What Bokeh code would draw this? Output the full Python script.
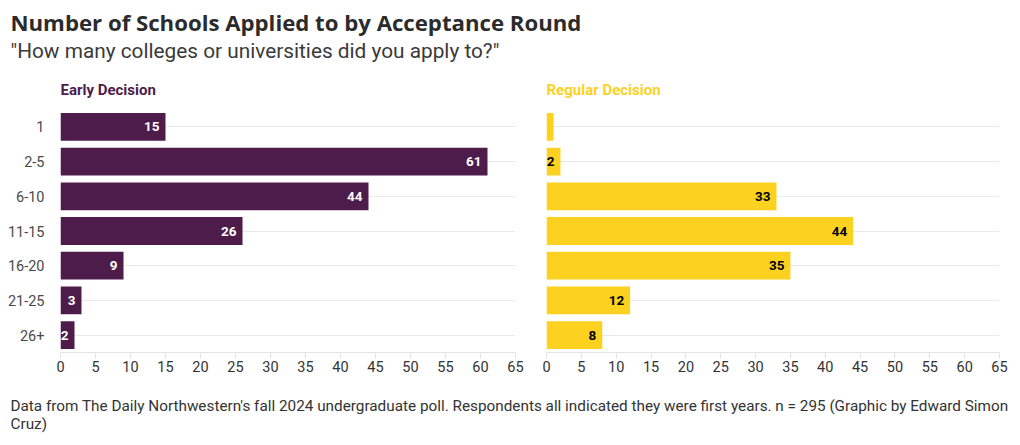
from bokeh.plotting import figure
from bokeh.layouts import column, row
from bokeh.models import Range1d, FactorRange, FixedTicker, Label, ColumnDataSource
from bokeh.embed import file_html
from bokeh.resources import INLINE

# ---- data ----
categories = ["1", "2-5", "6-10", "11-15", "16-20", "21-25", "26+"]
early_decision = [15, 61, 44, 26, 9, 3, 2]
regular_decision = [1, 2, 33, 44, 35, 12, 8]
x_ticks = list(range(0, 70, 5))

title_text = "Number of Schools Applied to by Acceptance Round"
subtitle_text = "\"How many colleges or universities did you apply to?\""
footer_line1 = ("Data from The Daily Northwestern's fall 2024 undergraduate poll. "
                "Respondents all indicated they were first years. n = 295 (Graphic by Edward Simon")
footer_line2 = "Cruz)"

PURPLE = "#4e1c4a"
YELLOW = "#fdd11f"
FONT = "Roboto"
TEXT = "#333333"

TOTAL_W = 1018


def text_fig(height):
    f = figure(width=TOTAL_W, height=height, x_range=Range1d(0, TOTAL_W),
               y_range=Range1d(0, height), output_backend="svg",
               toolbar_location=None, min_border=0,
               x_axis_type=None, y_axis_type=None)
    f.grid.visible = False
    f.outline_line_color = None
    return f


header = text_fig(68)
header.add_layout(Label(x=10, y=46, text=title_text, text_font="Open Sans",
                        text_font_size="22.2px", text_font_style="bold",
                        text_color="#2b2b2b", text_baseline="alphabetic"))
header.add_layout(Label(x=10, y=18, text=subtitle_text, text_font=FONT,
                        text_font_size="20.8px", text_color="#3a3a3a",
                        text_baseline="alphabetic"))


def panel(values, color, label_color, name, width, border_left, border_right,
          show_y, min_label):
    src = ColumnDataSource(dict(
        cat=categories, val=values,
        lab=[str(v) if v >= min_label else "" for v in values]))
    p = figure(width=width, height=322, output_backend="svg",
               toolbar_location=None,
               y_range=FactorRange(factors=list(reversed(categories))),
               x_range=Range1d(0, 65),
               min_border_left=border_left, min_border_right=border_right,
               min_border_top=39, min_border_bottom=38)
    p.outline_line_color = None
    p.hbar(y="cat", right="val", left=0, height=0.8, source=src,
           color=color, line_color=None)
    p.text(x="val", y="cat", text="lab", source=src, x_offset=-6,
           text_align="right", text_baseline="middle",
           text_font={"value": FONT}, text_font_size="13.5px",
           text_font_style="bold", text_color=label_color)
    p.title.text = name
    p.title.align = "left"
    p.title.text_font = FONT
    p.title.text_font_size = "15px"
    p.title.text_font_style = "bold"
    p.title.text_color = color
    p.title.standoff = 21
    p.title.offset = 0

    p.xgrid.visible = False
    p.ygrid.grid_line_color = "#e9e9e9"
    p.ygrid.grid_line_width = 1

    xa = p.xaxis[0]
    xa.ticker = FixedTicker(ticks=x_ticks)
    xa.axis_line_color = "#e3e3e3"
    xa.major_tick_line_color = "#e3e3e3"
    xa.major_tick_out = 6
    xa.major_tick_in = 0
    xa.minor_tick_line_color = None
    xa.major_label_text_font = FONT
    xa.major_label_text_font_size = "14.5px"
    xa.major_label_text_color = TEXT
    xa.major_label_standoff = 2

    ya = p.yaxis[0]
    ya.axis_line_color = None
    ya.major_tick_line_color = None
    ya.minor_tick_line_color = None
    ya.major_label_text_font = FONT
    ya.major_label_text_font_size = "14.5px"
    ya.major_label_text_color = "#4a4a4a"
    ya.major_label_standoff = 10
    ya.visible = show_y
    return p


left = panel(early_decision, PURPLE, "white", "Early Decision", 530, 60, 15, True, 2)
right = panel(regular_decision, YELLOW, "black", "Regular Decision", 488, 16, 19, False, 2)

footer = text_fig(53)
footer.add_layout(Label(x=10, y=38, text=footer_line1, text_font=FONT,
                        text_font_size="15.3px", text_color=TEXT,
                        text_baseline="alphabetic"))
footer.add_layout(Label(x=10, y=20, text=footer_line2, text_font=FONT,
                        text_font_size="15.3px", text_color=TEXT,
                        text_baseline="alphabetic"))

layout = column(header, row(left, right), footer)

open("out.html", "w").write(file_html(layout, INLINE))
